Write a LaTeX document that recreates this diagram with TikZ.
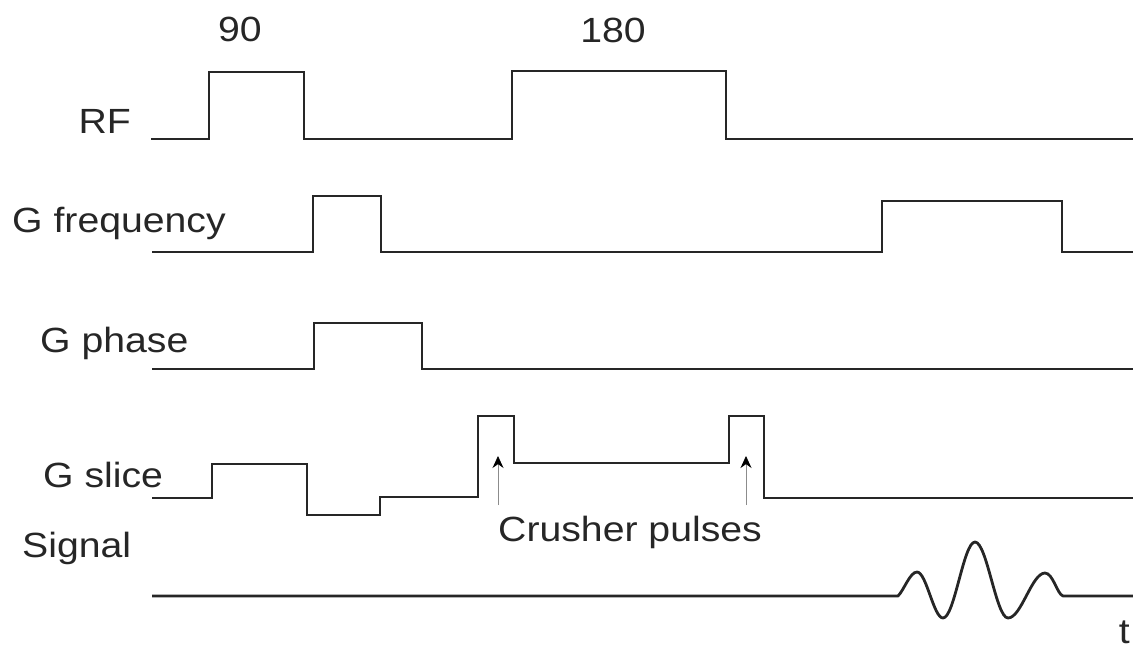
\documentclass[tikz,border=0pt]{standalone}
\usepackage{fontspec}
\setmainfont{Liberation Sans}
\usetikzlibrary{arrows.meta}
\newcommand{\wlbl}[1]{\scalebox{1.12}[1]{#1}}
\tikzset{
  wave/.style={line width=2.8pt, line join=miter, black!85},
  lbl/.style={inner sep=0pt, font=\fontsize{35}{42}\selectfont, text=black!85},
  pointer/.style={line width=0.8pt, black!45, -{Stealth[length=12pt,width=11pt,black]}}
}
\begin{document}
\begin{tikzpicture}[x=1pt,y=-1pt]
\useasboundingbox (0,0) rectangle (1133,649);
% labels
\node[lbl, anchor=base east] (rf) at (131,133) {\wlbl{RF}};
\node[lbl, anchor=base west] (gf) at (12,232) {\wlbl{G frequency}};
\node[lbl, anchor=base west] (gp) at (40,352) {\wlbl{G phase}};
\node[lbl, anchor=base west] (gs) at (43,487) {\wlbl{G slice}};
\node[lbl, anchor=base west] (sig) at (22,557) {\wlbl{Signal}};
\node[lbl, anchor=base] (n90) at (240,41) {\wlbl{90}};
\node[lbl, anchor=base] (n180) at (613,42) {\wlbl{180}};
\node[lbl, anchor=base west] (crush) at (498,541) {\wlbl{Crusher pulses}};
\node[lbl, anchor=base east] (t) at (1130,643) {\wlbl{t}};
% RF
\draw[wave] (151,139) -- (209,139) -- (209,72) -- (304,72) -- (304,139) -- (512,139) -- (512,71) -- (726,71) -- (726,139) -- (1133,139);
% G frequency
\draw[wave] (152,252) -- (313,252) -- (313,196) -- (381,196) -- (381,252) -- (882,252) -- (882,201) -- (1062,201) -- (1062,252) -- (1133,252);
% G phase
\draw[wave] (152,369) -- (314,369) -- (314,323) -- (422,323) -- (422,369) -- (1133,369);
% G slice
\draw[wave] (152,498) -- (212,498) -- (212,464) -- (307,464) -- (307,515) -- (380,515) -- (380,497) -- (478,497) -- (478,416) -- (514,416) -- (514,463) -- (729,463) -- (729,416) -- (764,416) -- (764,498) -- (1133,498);
% Signal
\draw[wave, line join=round] (152,596) -- (898,596)
  .. controls (904,590) and (910,572) .. (917,572)
  .. controls (926.4,572) and (933.6,618) .. (943,618)
  .. controls (954.5,618) and (963.5,542) .. (975,542)
  .. controls (986.9,542) and (996.1,618) .. (1008,618)
  .. controls (1021.3,618) and (1031.7,573) .. (1045,573)
  .. controls (1053,573) and (1057,594) .. (1063,596)
  -- (1133,596);
% crusher pointers
\coordinate (p1a) at (498,505);
\coordinate (p1b) at (498,456);
\coordinate (p2a) at (746,505);
\coordinate (p2b) at (746,456);
\draw[pointer] (p1a) -- (p1b);
\draw[pointer] (p2a) -- (p2b);
\end{tikzpicture}
\end{document}
